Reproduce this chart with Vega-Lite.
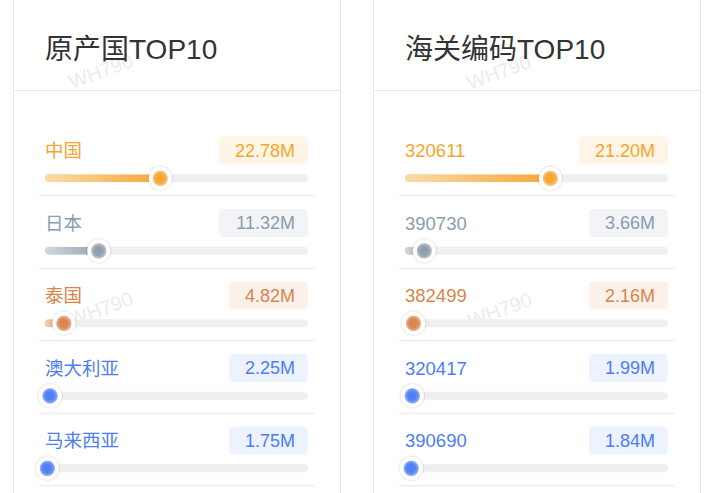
{
  "$schema": "https://vega.github.io/schema/vega-lite/v6.json",
  "padding": {"left": 12, "top": -3, "right": 0, "bottom": 0},
  "background": "#ffffff",
  "spacing": 31,
  "config": {
    "view": {"stroke": "#e6e6e6", "strokeWidth": 1},
    "font": "Liberation Sans, Noto Sans CJK SC, sans-serif"
  },
  "datasets": {
    "origin": [
      {"rank": 1, "name": "中国", "value": 22.78},
      {"rank": 2, "name": "日本", "value": 11.32},
      {"rank": 3, "name": "泰国", "value": 4.82},
      {"rank": 4, "name": "澳大利亚", "value": 2.25},
      {"rank": 5, "name": "马来西亚", "value": 1.75}
    ],
    "hscode": [
      {"rank": 1, "name": "320611", "value": 21.20},
      {"rank": 2, "name": "390730", "value": 3.66},
      {"rank": 3, "name": "382499", "value": 2.16},
      {"rank": 4, "name": "320417", "value": 1.99},
      {"rank": 5, "name": "390690", "value": 1.84}
    ]
  },
  "hconcat": [
    {
      "width": 327,
      "height": 505,
      "data": {"name": "origin"},
      "transform": [{"calculate": "format(datum.value, '.2f') + 'M'", "as": "label"}],
      "layer": [
        {"data": {"values": [{"wm": "WH790"}]}, "mark": {"type": "text", "fontSize": 20, "angle": -20, "color": "#ececec", "align": "center", "baseline": "middle"}, "encoding": {"text": {"field": "wm"}, "x": {"value": 88}, "y": {"value": 74}}},
        {"data": {"values": [{"wm": "WH790"}]}, "mark": {"type": "text", "fontSize": 20, "angle": -20, "color": "#ececec", "align": "center", "baseline": "middle"}, "encoding": {"text": {"field": "wm"}, "x": {"value": 88}, "y": {"value": 312}}},
        {"data": {"values": [{"title": "原产国TOP10"}]}, "mark": {"type": "text", "fontSize": 28, "color": "#333333", "align": "left", "baseline": "alphabetic"}, "encoding": {"text": {"field": "title"}, "x": {"value": 32}, "y": {"value": 60.5}}},
        {"data": {"values": [{"line": "header"}]}, "mark": {"type": "rule", "color": "#e6e6e6", "strokeWidth": 1}, "encoding": {"y": {"value": 92.5}}},
        {"mark": {"type": "tick", "orient": "horizontal", "size": 276, "thickness": 1, "opacity": 1, "color": "#e8e8e8", "xOffset": 0.5, "yOffset": 17.5}, "encoding": {"y": {"field": "rank", "type": "quantitative", "scale": {"domain": [1, 5], "range": [180.3, 470.3], "zero": false, "nice": false, "padding": 0}, "axis": null}, "x": {"datum": 24.5, "type": "quantitative", "scale": {"domain": [0, 49], "range": [32, 295], "zero": true, "nice": false, "padding": 0}, "axis": null}}},
        {"mark": {"type": "bar", "orient": "horizontal", "height": 8, "cornerRadius": 4, "color": "#efefef"}, "encoding": {"y": {"field": "rank", "type": "quantitative"}, "x": {"datum": 49, "type": "quantitative"}}},
        {"mark": {"type": "bar", "orient": "horizontal", "height": 8, "cornerRadius": 4}, "encoding": {"y": {"field": "rank", "type": "quantitative"}, "x": {"field": "value", "type": "quantitative"}, "color": {"field": "rank", "type": "ordinal", "legend": null, "scale": {"domain": [1, 2, 3, 4, 5], "range": ["#f5a52f", "#8d9cac", "#d8844c", "#4c7df4", "#4c7df4"]}}}},
        {"mark": {"type": "bar", "orient": "horizontal", "height": 8, "cornerRadius": 4, "fill": {"gradient": "linear", "x1": 0, "x2": 1, "y1": 0, "y2": 0, "stops": [{"offset": 0, "color": "rgba(255,255,255,0.6)"}, {"offset": 1, "color": "rgba(255,255,255,0)"}]}}, "encoding": {"y": {"field": "rank", "type": "quantitative"}, "x": {"field": "value", "type": "quantitative"}}},
        {"mark": {"type": "circle", "size": 676, "color": "#000000", "opacity": 0.06, "xOffset": -7}, "encoding": {"y": {"field": "rank", "type": "quantitative"}, "x": {"field": "value", "type": "quantitative"}}},
        {"mark": {"type": "circle", "size": 529, "color": "#ffffff", "opacity": 1, "xOffset": -7}, "encoding": {"y": {"field": "rank", "type": "quantitative"}, "x": {"field": "value", "type": "quantitative"}}},
        {"mark": {"type": "circle", "size": 230, "opacity": 1, "xOffset": -7}, "encoding": {"y": {"field": "rank", "type": "quantitative"}, "x": {"field": "value", "type": "quantitative"}, "color": {"field": "rank", "type": "ordinal", "legend": null}}},
        {"mark": {"type": "circle", "size": 230, "opacity": 1, "xOffset": -7, "fill": {"gradient": "radial", "x1": 0.45, "y1": 0.5, "r1": 0, "x2": 0.5, "y2": 0.5, "r2": 0.5, "stops": [{"offset": 0, "color": "rgba(255,255,255,0)"}, {"offset": 0.6, "color": "rgba(255,255,255,0.05)"}, {"offset": 1, "color": "rgba(255,255,255,0.4)"}]}}, "encoding": {"y": {"field": "rank", "type": "quantitative"}, "x": {"field": "value", "type": "quantitative"}}},
        {"transform": [{"filter": "length(datum.label) == 6"}], "mark": {"type": "tick", "orient": "horizontal", "size": 89, "thickness": 28, "cornerRadius": 4, "opacity": 1, "xOffset": -44.5, "yOffset": -27.8}, "encoding": {"y": {"field": "rank", "type": "quantitative"}, "x": {"datum": 49, "type": "quantitative"}, "fill": {"field": "rank", "type": "ordinal", "legend": null, "scale": {"domain": [1, 2, 3, 4, 5], "range": ["#fef5e6", "#f2f4f7", "#fbf1ea", "#ecf2fe", "#ecf2fe"]}}}},
        {"transform": [{"filter": "length(datum.label) == 5"}], "mark": {"type": "tick", "orient": "horizontal", "size": 79, "thickness": 28, "cornerRadius": 4, "opacity": 1, "xOffset": -39.5, "yOffset": -27.8}, "encoding": {"y": {"field": "rank", "type": "quantitative"}, "x": {"datum": 49, "type": "quantitative"}, "fill": {"field": "rank", "type": "ordinal", "legend": null}}},
        {"mark": {"type": "text", "fontSize": 18, "align": "right", "baseline": "alphabetic", "xOffset": -13, "yOffset": -21.8}, "encoding": {"y": {"field": "rank", "type": "quantitative"}, "x": {"datum": 49, "type": "quantitative"}, "text": {"field": "label"}, "color": {"field": "rank", "type": "ordinal", "legend": null}}},
        {"mark": {"type": "text", "fontSize": 18.5, "align": "left", "baseline": "alphabetic", "xOffset": 0, "yOffset": -21}, "encoding": {"y": {"field": "rank", "type": "quantitative"}, "x": {"datum": 0, "type": "quantitative"}, "text": {"field": "name"}, "color": {"field": "rank", "type": "ordinal", "legend": null}}}
      ]
    },
    {
      "width": 327,
      "height": 505,
      "data": {"name": "hscode"},
      "transform": [{"calculate": "format(datum.value, '.2f') + 'M'", "as": "label"}],
      "layer": [
        {"data": {"values": [{"wm": "WH790"}]}, "mark": {"type": "text", "fontSize": 20, "angle": -20, "color": "#ececec", "align": "center", "baseline": "middle"}, "encoding": {"text": {"field": "wm"}, "x": {"value": 126}, "y": {"value": 75}}},
        {"data": {"values": [{"wm": "WH790"}]}, "mark": {"type": "text", "fontSize": 20, "angle": -20, "color": "#ececec", "align": "center", "baseline": "middle"}, "encoding": {"text": {"field": "wm"}, "x": {"value": 127}, "y": {"value": 313}}},
        {"data": {"values": [{"title": "海关编码TOP10"}]}, "mark": {"type": "text", "fontSize": 28, "color": "#333333", "align": "left", "baseline": "alphabetic"}, "encoding": {"text": {"field": "title"}, "x": {"value": 32}, "y": {"value": 60.5}}},
        {"data": {"values": [{"line": "header"}]}, "mark": {"type": "rule", "color": "#e6e6e6", "strokeWidth": 1}, "encoding": {"y": {"value": 92.5}}},
        {"mark": {"type": "tick", "orient": "horizontal", "size": 276, "thickness": 1, "opacity": 1, "color": "#e8e8e8", "xOffset": 0.5, "yOffset": 17.5}, "encoding": {"y": {"field": "rank", "type": "quantitative", "scale": {"domain": [1, 5], "range": [180.3, 470.3], "zero": false, "nice": false, "padding": 0}, "axis": null}, "x": {"datum": 18.3, "type": "quantitative", "scale": {"domain": [0, 36.6], "range": [32, 295], "zero": true, "nice": false, "padding": 0}, "axis": null}}},
        {"mark": {"type": "bar", "orient": "horizontal", "height": 8, "cornerRadius": 4, "color": "#efefef"}, "encoding": {"y": {"field": "rank", "type": "quantitative"}, "x": {"datum": 36.6, "type": "quantitative"}}},
        {"mark": {"type": "bar", "orient": "horizontal", "height": 8, "cornerRadius": 4}, "encoding": {"y": {"field": "rank", "type": "quantitative"}, "x": {"field": "value", "type": "quantitative"}, "color": {"field": "rank", "type": "ordinal", "legend": null, "scale": {"domain": [1, 2, 3, 4, 5], "range": ["#f5a52f", "#8d9cac", "#d8844c", "#4c7df4", "#4c7df4"]}}}},
        {"mark": {"type": "bar", "orient": "horizontal", "height": 8, "cornerRadius": 4, "fill": {"gradient": "linear", "x1": 0, "x2": 1, "y1": 0, "y2": 0, "stops": [{"offset": 0, "color": "rgba(255,255,255,0.6)"}, {"offset": 1, "color": "rgba(255,255,255,0)"}]}}, "encoding": {"y": {"field": "rank", "type": "quantitative"}, "x": {"field": "value", "type": "quantitative"}}},
        {"mark": {"type": "circle", "size": 676, "color": "#000000", "opacity": 0.06, "xOffset": -7}, "encoding": {"y": {"field": "rank", "type": "quantitative"}, "x": {"field": "value", "type": "quantitative"}}},
        {"mark": {"type": "circle", "size": 529, "color": "#ffffff", "opacity": 1, "xOffset": -7}, "encoding": {"y": {"field": "rank", "type": "quantitative"}, "x": {"field": "value", "type": "quantitative"}}},
        {"mark": {"type": "circle", "size": 230, "opacity": 1, "xOffset": -7}, "encoding": {"y": {"field": "rank", "type": "quantitative"}, "x": {"field": "value", "type": "quantitative"}, "color": {"field": "rank", "type": "ordinal", "legend": null}}},
        {"mark": {"type": "circle", "size": 230, "opacity": 1, "xOffset": -7, "fill": {"gradient": "radial", "x1": 0.45, "y1": 0.5, "r1": 0, "x2": 0.5, "y2": 0.5, "r2": 0.5, "stops": [{"offset": 0, "color": "rgba(255,255,255,0)"}, {"offset": 0.6, "color": "rgba(255,255,255,0.05)"}, {"offset": 1, "color": "rgba(255,255,255,0.4)"}]}}, "encoding": {"y": {"field": "rank", "type": "quantitative"}, "x": {"field": "value", "type": "quantitative"}}},
        {"transform": [{"filter": "length(datum.label) == 6"}], "mark": {"type": "tick", "orient": "horizontal", "size": 89, "thickness": 28, "cornerRadius": 4, "opacity": 1, "xOffset": -44.5, "yOffset": -27.8}, "encoding": {"y": {"field": "rank", "type": "quantitative"}, "x": {"datum": 36.6, "type": "quantitative"}, "fill": {"field": "rank", "type": "ordinal", "legend": null, "scale": {"domain": [1, 2, 3, 4, 5], "range": ["#fef5e6", "#f2f4f7", "#fbf1ea", "#ecf2fe", "#ecf2fe"]}}}},
        {"transform": [{"filter": "length(datum.label) == 5"}], "mark": {"type": "tick", "orient": "horizontal", "size": 79, "thickness": 28, "cornerRadius": 4, "opacity": 1, "xOffset": -39.5, "yOffset": -27.8}, "encoding": {"y": {"field": "rank", "type": "quantitative"}, "x": {"datum": 36.6, "type": "quantitative"}, "fill": {"field": "rank", "type": "ordinal", "legend": null}}},
        {"mark": {"type": "text", "fontSize": 18, "align": "right", "baseline": "alphabetic", "xOffset": -13, "yOffset": -21.8}, "encoding": {"y": {"field": "rank", "type": "quantitative"}, "x": {"datum": 36.6, "type": "quantitative"}, "text": {"field": "label"}, "color": {"field": "rank", "type": "ordinal", "legend": null}}},
        {"mark": {"type": "text", "fontSize": 18.5, "align": "left", "baseline": "alphabetic", "xOffset": 0, "yOffset": -21}, "encoding": {"y": {"field": "rank", "type": "quantitative"}, "x": {"datum": 0, "type": "quantitative"}, "text": {"field": "name"}, "color": {"field": "rank", "type": "ordinal", "legend": null}}}
      ]
    }
  ]
}
